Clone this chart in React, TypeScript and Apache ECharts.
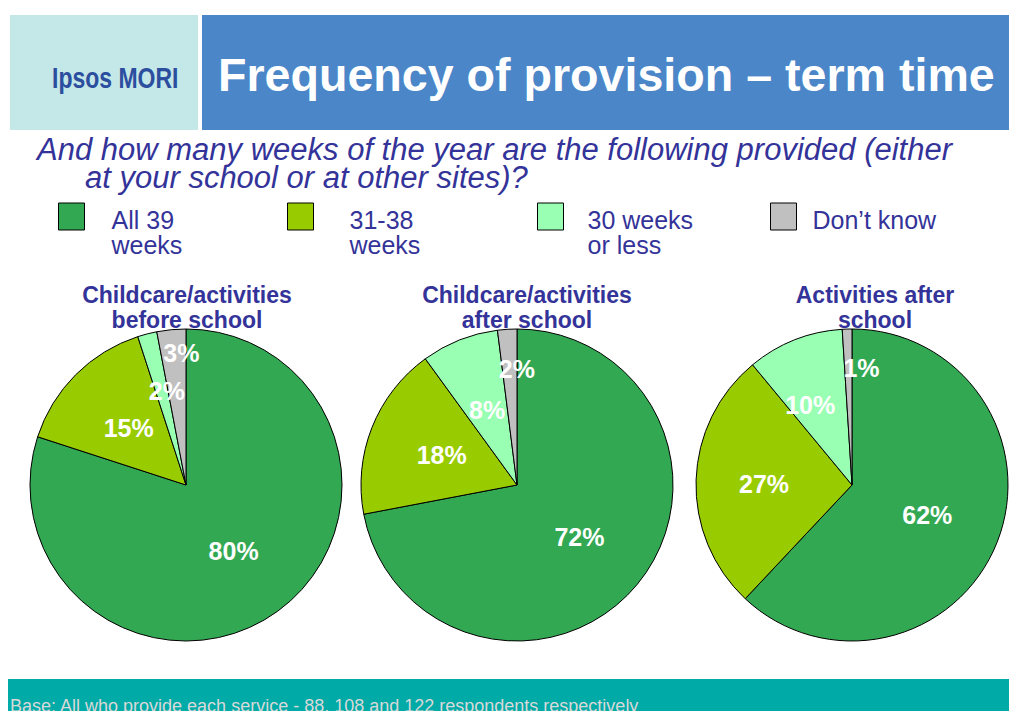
import React, { useEffect, useRef } from "react";
import * as echarts from "echarts";

const categories = ["All 39 weeks", "31-38 weeks", "30 weeks or less", "Don\u2019t know"];
const legendLines = [
  ["All 39", "weeks"],
  ["31-38", "weeks"],
  ["30 weeks", "or less"],
  ["Don\u2019t know", " "],
];
const pieTitles = [
  "Childcare/activities\nbefore school",
  "Childcare/activities\nafter school",
  "Activities after\nschool",
];
const beforeSchool = [80, 15, 2, 3];
const afterSchool = [72, 18, 8, 2];
const activitiesAfter = [62, 27, 10, 1];
const pieValues = [beforeSchool, afterSchool, activitiesAfter];

const colors = ["#33A853", "#99CC00", "#99FFB2", "#C0C0C0"];
const FONT = "'Liberation Sans', Arial, sans-serif";
const NAVY = "#333399";

// layout (styling only)
const pieCenters = [186, 517, 852];
const titleCenters = [187, 527, 875];
const legendLefts = [58, 287, 537, 770];
const legendTextPad = [22, 31, 19, 11];
const labelNudges = [
  [[0, 0], [0, 0], [1, -16], [3, -51]],
  [[0, 0], [0, 0], [0, 0], [5, -35]],
  [[0, 0], [-7, 2], [-12, -5], [12, -36]],
];

export default function App() {
  const ref = useRef<HTMLDivElement>(null);
  useEffect(() => {
    if (!ref.current) return;
    const chart = echarts.init(ref.current, null, { renderer: "svg" });
    const series = pieValues.map((vals, si) => ({
      type: "pie",
      center: [pieCenters[si], 485],
      radius: 156,
      startAngle: 90,
      clockwise: true,
      avoidLabelOverlap: false,
      silent: true,
      data: vals.map((v, i) => ({ name: categories[i], value: v, itemStyle: { color: colors[i] } })),
      itemStyle: { borderColor: "#000", borderWidth: 1 },
      label: {
        show: true,
        position: "inside",
        formatter: "{c}%",
        color: "#fff",
        fontSize: 25,
        fontWeight: "bold",
        fontFamily: FONT,
        textBorderWidth: 0,
      },
      labelLine: { show: false },
      labelLayout: (p: any) => ({ dx: labelNudges[si][p.dataIndex][0], dy: labelNudges[si][p.dataIndex][1] }),
      emphasis: { disabled: true },
    }));
    const legends = categories.map((c, i) => ({
      data: [c],
      left: legendLefts[i],
      top: 175.5,
      padding: 0,
      itemWidth: 26,
      itemHeight: 27,
      icon: "rect",
      selectedMode: false,
      itemStyle: { borderColor: "#000", borderWidth: 1 },
      formatter: () => `{s| }\n{t|${legendLines[i][0]}}\n{t|${legendLines[i][1]}}`,
      textStyle: {
        fontSize: 25,
        lineHeight: 25,
        color: NAVY,
        fontFamily: FONT,
        padding: [0, 0, 0, legendTextPad[i]],
        rich: {
          s: { fontSize: 10, lineHeight: 32 },
          t: { fontSize: 25, lineHeight: 25, color: NAVY, fontFamily: FONT },
        },
      },
    }));
    const titles = pieTitles.map((t, i) => ({
      text: t,
      left: titleCenters[i],
      top: 282,
      padding: 0,
      textAlign: "center",
      textStyle: { fontSize: 23, fontWeight: "bold", color: NAVY, lineHeight: 25, fontFamily: FONT },
    }));
    chart.setOption({
      animation: false,
      backgroundColor: "#fff",
      title: titles,
      legend: legends,
      series,
      graphic: [
        { type: "rect", shape: { x: 10, y: 15, width: 188, height: 115 }, style: { fill: "#C4E7E8" } },
        { type: "rect", shape: { x: 202, y: 15, width: 807, height: 115 }, style: { fill: "#4A86C8" } },
        {
          type: "text", x: 52, y: 78, scaleY: 1.25,
          style: { text: "Ipsos MORI", fill: "#2C4E9E", font: `bold 23px ${FONT}`, verticalAlign: "middle" },
        },
        {
          type: "text", x: 218, y: 75,
          style: { text: "Frequency of provision \u2013 term time", fill: "#fff", font: `bold 46.6px ${FONT}`, verticalAlign: "middle" },
        },
        {
          type: "text", x: 37, y: 149,
          style: { text: "And how many weeks of the year are the following provided (either", fill: NAVY, font: `italic 31px ${FONT}`, verticalAlign: "middle" },
        },
        {
          type: "text", x: 85, y: 177,
          style: { text: "at your school or at other sites)?", fill: NAVY, font: `italic 31px ${FONT}`, verticalAlign: "middle" },
        },
        { type: "rect", shape: { x: 8, y: 679, width: 1001, height: 32 }, style: { fill: "#00AAA6" } },
        {
          type: "text", x: 10, y: 706,
          style: { text: "Base: All who provide each service - 88, 108 and 122 respondents respectively", fill: "#D9D9D9", font: `18px ${FONT}`, verticalAlign: "middle" },
        },
      ],
    });
    return () => chart.dispose();
  }, []);
  return <div ref={ref} style={{ position: "absolute", left: 0, top: 0, width: 1009, height: 711 }} />;
}
